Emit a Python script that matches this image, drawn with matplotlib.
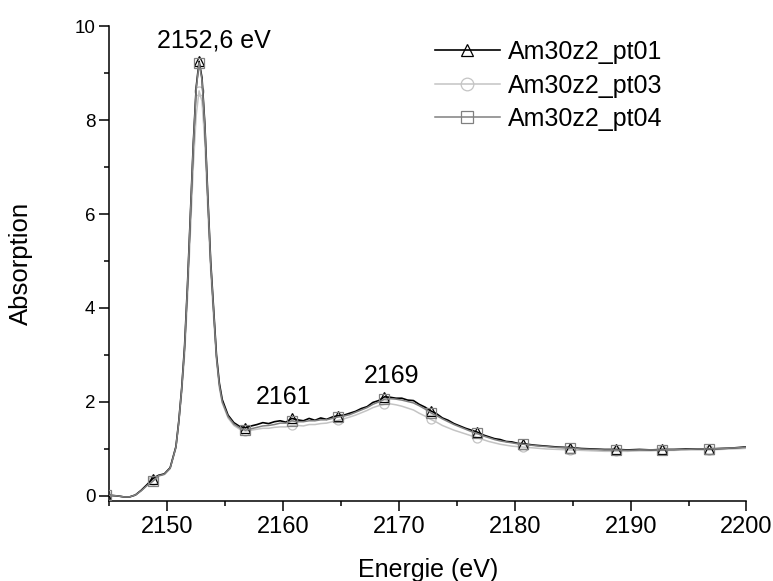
import numpy as np
import matplotlib
matplotlib.use("Agg")
import matplotlib.pyplot as plt
from matplotlib.ticker import MultipleLocator

plt.rcParams['font.family'] = ['Liberation Sans', 'DejaVu Sans']

# ---- data ----
energy_edge = [2144.75, 2145.25, 2145.75, 2146.25, 2146.75, 2147.25, 2147.75, 2148.25,
               2148.75, 2149.25, 2149.75, 2150.25, 2150.75, 2151.0, 2151.25, 2151.5,
               2151.75, 2152.0, 2152.25, 2152.5, 2152.75, 2153.0, 2153.25, 2153.5,
               2153.75, 2154.0, 2154.25, 2154.5, 2154.75, 2155.25, 2155.75, 2156.25]
energy_mid = list(np.arange(2156.75, 2180.8, 0.5))
energy_tail = list(np.arange(2181.75, 2200.8, 1.0))
energy = np.array(energy_edge + energy_mid + energy_tail)

pt01 = [0.02, 0.01, 0.0, -0.02, -0.02, 0.02, 0.12, 0.24, 0.37, 0.44, 0.47, 0.60, 1.05,
        1.6, 2.3, 3.2, 4.5, 6.0, 7.5, 8.7, 9.25, 8.9, 7.9, 6.4, 5.0, 4.0, 3.0, 2.4, 2.05,
        1.72, 1.56, 1.48,
        1.45, 1.49, 1.52, 1.56, 1.54, 1.58, 1.60, 1.57, 1.65, 1.62, 1.60, 1.65, 1.61, 1.66,
        1.63, 1.68, 1.71, 1.72, 1.76, 1.80, 1.86, 1.90, 1.99, 2.03, 2.11, 2.10, 2.08, 2.08,
        2.04, 2.03, 1.95, 1.89, 1.81, 1.75, 1.66, 1.61, 1.54, 1.49, 1.44, 1.40, 1.36, 1.30,
        1.26, 1.22, 1.20, 1.16, 1.15, 1.12, 1.11,
        1.08, 1.06, 1.04, 1.03, 1.01, 1.00, 0.99, 0.99, 0.98, 0.99, 0.98, 0.99, 0.99, 1.00,
        1.00, 1.00, 1.01, 1.02, 1.04, 1.05]

pt03 = [0.02, 0.01, 0.0, -0.02, -0.02, 0.02, 0.11, 0.23, 0.33, 0.42, 0.46, 0.58, 1.02,
        1.55, 2.2, 3.0, 4.2, 5.6, 7.0, 8.1, 8.62, 8.4, 7.5, 6.1, 4.8, 3.8, 2.9, 2.3, 1.98,
        1.66, 1.50, 1.42,
        1.38, 1.40, 1.42, 1.44, 1.44, 1.46, 1.47, 1.47, 1.50, 1.50, 1.49, 1.52, 1.52, 1.54,
        1.55, 1.58, 1.61, 1.64, 1.68, 1.72, 1.77, 1.82, 1.88, 1.92, 1.95, 1.96, 1.94, 1.91,
        1.87, 1.83, 1.76, 1.70, 1.63, 1.57, 1.50, 1.45, 1.40, 1.36, 1.32, 1.28, 1.24, 1.20,
        1.16, 1.13, 1.10, 1.08, 1.06, 1.05, 1.04,
        1.02, 1.00, 0.99, 0.98, 0.97, 0.96, 0.95, 0.95, 0.95, 0.96, 0.96, 0.97, 0.97, 0.98,
        0.98, 0.98, 0.99, 1.00, 1.01, 1.03]

pt04 = [0.02, 0.01, 0.0, -0.02, -0.02, 0.02, 0.11, 0.22, 0.31, 0.43, 0.46, 0.59, 1.04,
        1.58, 2.28, 3.15, 4.45, 5.95, 7.45, 8.65, 9.22, 8.85, 7.85, 6.35, 4.95, 3.95, 2.95,
        2.35, 2.0, 1.69, 1.53, 1.45,
        1.40, 1.43, 1.46, 1.49, 1.50, 1.52, 1.55, 1.55, 1.60, 1.58, 1.58, 1.60, 1.60, 1.62,
        1.62, 1.65, 1.68, 1.70, 1.73, 1.78, 1.83, 1.88, 1.95, 2.00, 2.06, 2.07, 2.06, 2.04,
        2.01, 1.98, 1.92, 1.85, 1.77, 1.71, 1.64, 1.58, 1.52, 1.47, 1.42, 1.37, 1.33, 1.28,
        1.24, 1.20, 1.17, 1.15, 1.13, 1.11, 1.10,
        1.07, 1.05, 1.03, 1.02, 1.00, 0.99, 0.98, 0.98, 0.97, 0.98, 0.98, 0.98, 0.99, 0.99,
        1.00, 1.00, 1.01, 1.02, 1.03, 1.05]

marker_energies = [2144.75 + 4 * k for k in range(14)]
labels = ["Am30z2_pt01", "Am30z2_pt03", "Am30z2_pt04"]
annotations = [("2152,6 eV", 2154.05, 9.69), ("2161", 2160.05, 2.11), ("2169", 2169.35, 2.56)]

# ---- figure ----
fig = plt.figure(figsize=(7.73, 5.81), dpi=100)
ax = fig.add_axes([0.1414, 0.1377, 0.9657 - 0.1414, 0.9552 - 0.1377])

mark_idx = [i for i, e in enumerate(energy) if np.any(np.isclose(e, marker_energies))]

styles = [
    dict(color='black', marker='^', lw=1.2, zorder=3),
    dict(color='#c4c4c4', marker='o', lw=1.1, zorder=2),
    dict(color='#808080', marker='s', lw=1.1, zorder=4),
]
for y, lab, st in zip([pt01, pt03, pt04], labels, styles):
    ax.plot(energy, y, label=lab, markevery=mark_idx, markersize=6.5,
            markerfacecolor='none', markeredgewidth=0.9, **st)

ax.set_xlim(2145, 2200)
ax.set_ylim(-0.107, 10)
ax.spines['top'].set_visible(False)
ax.spines['right'].set_visible(False)
for s in ('left', 'bottom'):
    ax.spines[s].set_linewidth(1.1)

ax.xaxis.set_major_locator(MultipleLocator(10))
ax.xaxis.set_minor_locator(MultipleLocator(5))
ax.yaxis.set_major_locator(MultipleLocator(2))
ax.yaxis.set_minor_locator(MultipleLocator(1))
ax.tick_params(which='major', length=7, width=1.1, direction='out')
ax.tick_params(which='minor', length=3.8, width=1.1, direction='out')
ax.tick_params(axis='x', which='major', labelsize=17, pad=4)
ax.tick_params(axis='y', which='major', labelsize=13.5, pad=3)

ax.set_xlabel("Energie (eV)", fontsize=18, labelpad=14)
ax.set_ylabel("Absorption", fontsize=18.5, labelpad=30)

for txt, xx, yy in annotations:
    ax.text(xx, yy, txt, fontsize=18, ha='center', va='center')

leg = ax.legend(loc='upper left', bbox_to_anchor=(435 / 773, 1 - 40 / 581),
                bbox_transform=fig.transFigure, frameon=False, fontsize=18,
                handlelength=2.6, handletextpad=0.3, labelspacing=0.38,
                borderpad=0, borderaxespad=0, markerscale=1.4)
for h in leg.legend_handles:
    h.set_zorder(5)

fig.savefig("out.png", dpi=100)
